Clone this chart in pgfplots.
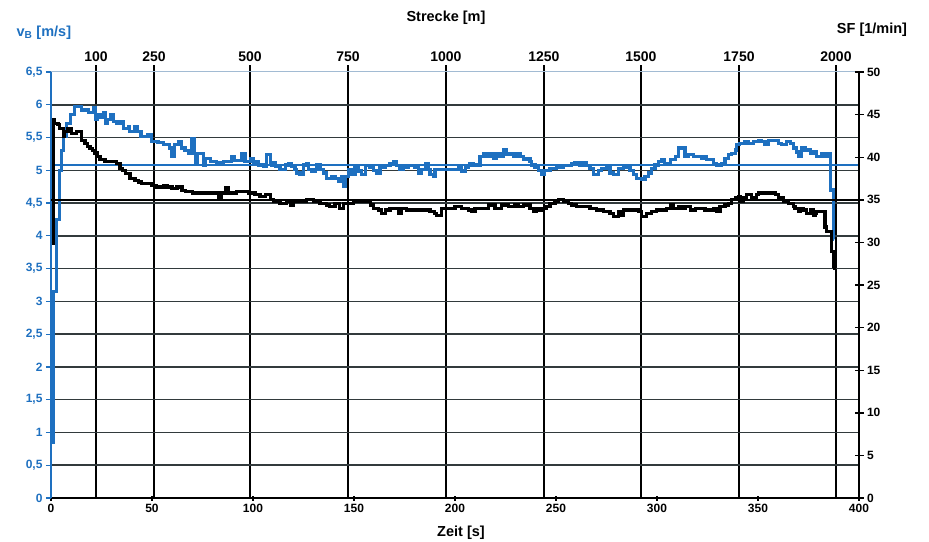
\documentclass[border=0pt]{standalone}
\usepackage{fontspec}
\setmainfont{Liberation Sans}
\usepackage{pgfplots}
\pgfplotsset{compat=1.18}
\definecolor{vblue}{RGB}{30,112,192}
\definecolor{gridc}{RGB}{50,58,60}

\begin{document}
\begin{tikzpicture}[x=1pt,y=1pt]
\pgfplotsset{
  every axis/.append style={scale only axis, width=808pt, height=426pt,
    xmin=0, xmax=400, at={(0,0)}, anchor=south west,
    /pgf/number format/assume math mode=true,
    tick label style={font=\bfseries\fontsize{12}{14}\selectfont}},
}
% distance lines (top axis)
\begin{axis}[height=433pt, ymin=0, ymax=1,
  axis x line*=top, hide y axis, x axis line style={draw=none},
  xtick={22.3,51,98.5,147,195.5,244,292,340.6,388.6},
  xticklabels={100,250,500,750,1000,1250,1500,1750,2000},
  xmajorgrids, major grid style={black, line width=1.8pt},
  major tick length=0pt,
  xticklabel style={font=\bfseries\fontsize{14}{16}\selectfont, yshift=0pt}]
\end{axis}

% left axis: boat speed
\begin{axis}[ymin=0, ymax=6.5,
  axis x line*=bottom, axis y line*=left,
  ytick={0,0.5,1,1.5,2,2.5,3,3.5,4,4.5,5,5.5,6},
  extra y ticks={6.5}, extra y tick style={grid=none},
  xtick={0,50,100,150,200,250,300,350,400},
  ymajorgrids, major grid style={gridc, line width=1.6pt},
  y axis line style={vblue, line width=1.6pt, -},
  x axis line style={black, line width=1.8pt, -},
  yticklabel style={text=vblue},
  y tick style={vblue, line width=1.2pt},
  x tick style={black, line width=1.2pt},
  /pgf/number format/use comma, /pgf/number format/fixed,
  ytick align=outside, xtick align=center, major tick length=5pt]
\addplot[gray!40!vblue!50, line width=1pt] coordinates {(0,6.5)(400,6.5)};
\addplot[vblue, line width=1.5pt] coordinates {(0,5.08)(400,5.08)};
\addplot[vblue, line width=3.2pt, const plot] coordinates {
(0,0.85)(1.2,3.15)(2.8,4.25)(4.4,5.0)(5.3,5.3)(6.1,5.52)(7.8,5.72)(9.5,5.85)(11.5,5.97)
(15.2,5.92)(18.5,5.88)(21,5.95)(22,5.77)(23,5.85)(24.5,5.80)(26.2,5.88)(27,5.72)(28,5.78)
(29.3,5.85)(31,5.74)(32.7,5.71)(34.4,5.74)(36,5.64)(38.3,5.67)(39,5.59)(41.3,5.67)(43,5.59)
(44.6,5.52)(48,5.55)(49.7,5.44)(53,5.42)(55.6,5.39)(58.7,5.34)(59.6,5.21)(61.3,5.39)(63,5.44)
(64.6,5.34)(66.3,5.30)(68,5.26)(69.6,5.49)(71,5.26)(71.5,5.11)(72.5,5.26)(75.4,5.08)(76.3,5.18)
(78.8,5.14)(82,5.11)(85.4,5.14)(89.5,5.21)(91,5.15)(94.4,5.26)(96,5.14)(98.6,5.18)(100.2,5.11)
(101.8,5.14)(102.7,5.08)(105.2,5.06)(106.8,5.24)(108.5,5.11)(109.2,5.08)(110,5.11)(111,5.06)
(113.4,5.01)(115.9,5.08)(117.5,5.10)(119,5.06)(120.8,5.01)(121.6,4.96)(123.3,4.93)(125,5.08)
(126.6,5.10)(127.4,5.01)(129,4.99)(130.7,5.01)(131.6,5.08)(133.2,5.01)(134.9,4.96)(136.5,4.88)
(139,4.91)(140.6,4.88)(142.3,4.83)(144,4.91)(144.8,4.75)(145.6,4.91)(147.2,5.01)(148.9,4.93)
(150.5,5.06)(152.2,4.99)(153.8,4.93)(155.5,5.07)(157.9,5.04)(159.6,5.00)(161.2,4.96)(162.9,5.04)
(165.4,5.07)(167.8,5.10)(169.5,5.14)(171.1,5.07)(172.8,5.01)(174.4,5.04)(176.9,5.07)(180.2,5.04)
(181.9,4.96)(183.5,5.01)(185.2,5.10)(186.8,5.01)(187.6,4.93)(189.3,4.91)(190.1,5.01)(195,5.01)
(200,5.01)(201.6,5.07)(203.3,4.99)(205,5.04)(206.6,5.07)(207.4,5.10)(209,5.07)(210.7,5.08)
(212.4,5.21)(214,5.26)(215.7,5.21)(217.3,5.26)(219,5.18)(220.6,5.26)(222.3,5.21)(224,5.31)
(225.6,5.24)(227.2,5.26)(228.9,5.21)(230.5,5.26)(232.2,5.21)(233.8,5.16)(235.5,5.18)(237.1,5.14)
(237.9,5.08)(239.6,5.04)(241.2,5.00)(242.9,4.93)(244.5,5.00)(247,5.03)(250.3,5.04)(253.6,5.07)
(257.7,5.10)(259.4,5.12)(261.9,5.07)(263.5,5.12)(265.2,5.07)(266.8,5.03)(268.5,4.93)(270.9,5.00)
(272.6,5.03)(275,5.04)(276.7,4.96)(278.4,4.93)(280.8,5.03)(283.3,5.04)(285,5.07)(286.6,5.00)
(288.3,4.93)(289.9,4.88)(292.4,4.86)(294.1,4.91)(295.7,4.96)(297.3,5.03)(299,5.08)(300.6,5.13)
(302.3,5.16)(303.9,5.10)(306.5,5.16)(309,5.21)(310.6,5.34)(313.9,5.21)(315.5,5.24)(318,5.21)
(322,5.18)(323.8,5.21)(324.6,5.16)(328,5.10)(329.6,5.08)(330.4,5.07)(332,5.10)(333.7,5.18)
(335.4,5.24)(337,5.26)(338.7,5.31)(339.5,5.39)(341,5.41)(343.6,5.44)(345.3,5.41)(347.7,5.44)
(350.2,5.46)(351.9,5.44)(353.5,5.39)(355.2,5.46)(357.6,5.46)(360.1,5.41)(361.8,5.39)(364.2,5.44)
(365.9,5.41)(367.5,5.34)(369.2,5.28)(370,5.21)(371.7,5.34)(373.3,5.31)(375.8,5.26)(377.4,5.28)
(379,5.21)(381.5,5.25)(383.2,5.21)(384.8,5.25)(385.7,4.70)(387.3,3.94)(387.8,3.94)};
\end{axis}

% right axis: stroke rate
\begin{axis}[ymin=0, ymax=50,
  axis y line*=right, axis x line=none,
  ytick={0,5,10,15,20,25,30,35,40,45,50},
  y axis line style={black, line width=1.8pt, -},
  y tick style={black, line width=1.4pt},
  ytick align=center, major tick length=9pt]
\addplot[black, line width=1.5pt] coordinates {(0,35)(400,35)};
\addplot[black, line width=3.2pt, const plot] coordinates {
(0.3,29.9)(1.1,44.4)(1.9,44.0)(3.5,43.8)(4.3,43.4)(6.0,42.4)(6.8,43.0)(8.4,43.4)(10,42.8)
(12.6,43.0)(15.2,42.0)(16.8,41.6)(18,41.3)(19.3,41.0)(20.5,40.8)(21.8,40.5)(23,40.1)(24.3,39.7)
(26.7,39.5)(30,39.5)(32.5,39.3)(34.2,38.7)(35.5,38.4)(36.7,38.1)(39.1,37.5)(41.6,37.3)(43.3,37.1)
(44.9,36.9)(49.9,36.7)(52.4,36.5)(55.7,36.7)(57.4,36.5)(59.9,36.3)(62.4,36.5)(64.9,36.1)(66.6,36.0)
(69.9,35.8)(82,35.8)(83,35.2)(84.6,35.8)(86.2,36.4)(87.8,35.8)(92,36.0)(95.6,36.0)(97.7,35.8)
(101,35.6)(103.5,35.4)(106,35.6)(108.5,35.0)(110,34.8)(113.4,34.6)(116.7,34.8)(118.4,34.4)
(120,34.8)(123.3,34.8)(126.6,35.0)(130,34.8)(133.2,34.6)(136.5,34.4)(138,34.2)(140.6,34.6)
(143,34.0)(144.8,34.6)(147.2,34.6)(149.7,34.8)(152.2,34.8)(157,34.8)(158,34.4)(159.6,34.0)
(162.1,33.8)(163.7,33.4)(165.4,33.8)(167.8,34.0)(172,33.4)(173.6,34.0)(176.1,33.8)(185.2,33.8)
(187.6,33.6)(190,33.4)(191,33.2)(193.4,34.0)(200,34.2)(203.3,34.0)(206.6,33.8)(208,33.6)
(209.9,34.0)(213.2,34.0)(216.5,34.4)(219.8,34.0)(223.1,34.4)(226.4,34.2)(229.7,34.4)(231.3,34.2)
(233.8,34.4)(237.1,34.0)(238.8,33.6)(240.4,34.0)(242.1,33.8)(243.7,34.0)(245.4,34.2)(247,34.6)
(249.5,34.8)(251.1,35.0)(253.6,34.8)(256,34.6)(257.7,34.4)(260.2,34.2)(263.5,34.2)(266.8,34.0)
(270.1,33.8)(273.4,33.6)(276.7,33.4)(278.4,33.0)(280.8,33.6)(281.7,33.2)(283.3,33.8)(290.7,33.6)
(292.4,33.0)(294.9,33.4)(297.3,33.6)(299.8,33.8)(304.8,34.0)(306.5,34.4)(308.1,34.0)(310.6,34.2)
(312.3,34.0)(313.9,34.2)(316.4,33.8)(318.9,34.0)(323.8,33.8)(328,34.0)(329.6,33.6)(331.2,34.2)
(333.7,34.4)(335.4,34.6)(337,35.0)(338.7,35.2)(340.3,35.4)(341.1,34.8)(342.8,35.2)(344.4,35.6)
(346.9,35.2)(349.4,35.6)(350.2,35.8)(358.5,35.6)(360.1,35.2)(362.6,34.8)(365,34.6)(367.5,34.2)
(368.3,34.0)(370,33.6)(371,34.0)(372.5,33.8)(374.1,33.4)(375.8,33.8)(377.4,33.2)(378.2,33.4)
(379,33.6)(382.4,33.6)(383.2,31.8)(384,31.3)(385.7,31.3)(386.5,28.9)(387.3,27.2)(388.1,27.0)(388.4,27.0)};
\end{axis}

\node[font=\bfseries\fontsize{14.5}{16}\selectfont, text=vblue, anchor=west] at (-38,465) {v\textsubscript{B} [m/s]};
\node[font=\bfseries\fontsize{14.5}{16}\selectfont] at (395,480) {Strecke [m]};
\node[font=\bfseries\fontsize{14.5}{16}\selectfont] at (821,468) {SF [1/min]};
\node[font=\bfseries\fontsize{14.5}{16}\selectfont] at (410,-35) {Zeit [s]};
\pgfresetboundingbox
\path (-51,-43) rectangle (878,498);
\end{tikzpicture}
\end{document}
